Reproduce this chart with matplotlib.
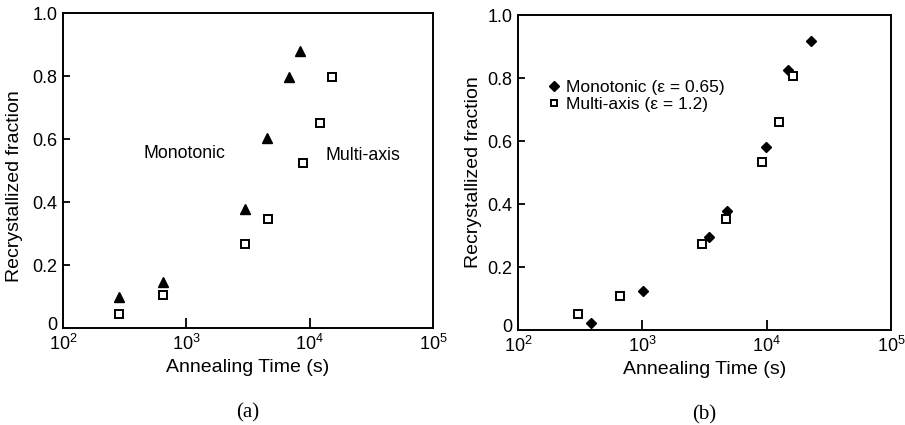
import matplotlib
matplotlib.use("Agg")
import matplotlib.pyplot as plt
import matplotlib.transforms as mtransforms

plt.rcParams['font.family'] = ['Liberation Sans', 'DejaVu Sans']
plt.rcParams['mathtext.fontset'] = 'custom'
plt.rcParams['mathtext.rm'] = 'Liberation Sans'
plt.rcParams['mathtext.it'] = 'Liberation Sans'

# panel (a)
mono_a_t = [287, 648, 2990, 4480, 6770, 8410]
mono_a_f = [0.098, 0.147, 0.379, 0.604, 0.797, 0.880]
multi_a_t = [287, 648, 2990, 4610, 8790, 12050, 15140]
multi_a_f = [0.046, 0.105, 0.266, 0.345, 0.523, 0.652, 0.796]

# panel (b)
mono_b_t = [386, 1010, 3436, 4800, 9930, 14930, 22600]
mono_b_f = [0.021, 0.124, 0.296, 0.379, 0.581, 0.827, 0.918]
multi_b_t = [304, 665, 3040, 4680, 9120, 12500, 16300]
multi_b_f = [0.050, 0.109, 0.272, 0.352, 0.532, 0.659, 0.806]

xticks = [1e2, 1e3, 1e4, 1e5]
xticklabels = ['$10^{2}$', '$10^{3}$', '$10^{4}$', '$10^{5}$']
yticks = [0, 0.2, 0.4, 0.6, 0.8, 1.0]
yticklabels = ['0', '0.2', '0.4', '0.6', '0.8', '1.0']

fig = plt.figure(figsize=(9.05, 4.25), dpi=100)
ax1 = fig.add_axes([0.0696, 0.228, 0.409, 0.741])
ax2 = fig.add_axes([0.5724, 0.2235, 0.412, 0.741])

sq = dict(marker='s', ms=5.2, mfc='white', mec='black', mew=1.4, ls='none')

ax1.plot(mono_a_t, mono_a_f, marker='^', ms=7, color='black', ls='none')
ax1.plot(multi_a_t, multi_a_f, **sq)
ax1.text(970, 0.554, 'Monotonic', fontsize=12.8, ha='center', va='center')
ax1.text(27000, 0.549, 'Multi-axis', fontsize=12.8, ha='center', va='center')

ax2.plot(mono_b_t, mono_b_f, marker='D', ms=5.5, color='black', ls='none',
         label='Monotonic (\u03b5 = 0.65)')
ax2.plot(multi_b_t, multi_b_f, label='Multi-axis (\u03b5 = 1.2)', **sq)
ax2.legend(loc='upper left', bbox_to_anchor=(0.06, 0.822), frameon=False,
           fontsize=12.5, handlelength=0.6, handletextpad=0.4,
           labelspacing=0.1, borderpad=0, markerscale=0.85)

nudge = mtransforms.ScaledTranslation(0, 3 / 72, fig.dpi_scale_trans)

for ax, lab in ((ax1, '(a)'), (ax2, '(b)')):
    ax.set_xscale('log')
    ax.set_xlim(1e2, 1e5)
    ax.set_ylim(0, 1.0)
    ax.set_xticks(xticks)
    ax.set_xticklabels(xticklabels)
    ax.minorticks_off()
    ax.set_yticks(yticks)
    ax.set_yticklabels(yticklabels)
    ax.tick_params(axis='x', direction='in', length=7, width=1.3,
                   labelsize=13, pad=4)
    ax.tick_params(axis='y', direction='in', length=5, width=1.3,
                   labelsize=13, pad=4)
    ax.xaxis.get_major_ticks()[0].tick1line.set_visible(False)
    ax.xaxis.get_major_ticks()[-1].tick1line.set_visible(False)
    ax.yaxis.get_major_ticks()[0].tick1line.set_visible(False)
    ax.yaxis.get_major_ticks()[-1].tick1line.set_visible(False)
    # lift the "0" a little so it clears the 10^2 label
    zero = ax.yaxis.get_major_ticks()[0].label1
    zero.set_transform(zero.get_transform() + nudge)
    for s in ax.spines.values():
        s.set_linewidth(1.4)
    ax.set_xlabel('Annealing Time (s)', fontsize=14, labelpad=4)
    ax.set_ylabel('Recrystallized fraction', fontsize=14, labelpad=4)
    ax.text(0.5, -0.27, lab, transform=ax.transAxes, ha='center', va='center',
            fontsize=15, family='Liberation Serif')

ax1.yaxis.set_label_coords(-0.107, 0.45)

fig.savefig('out.png', dpi=100)
